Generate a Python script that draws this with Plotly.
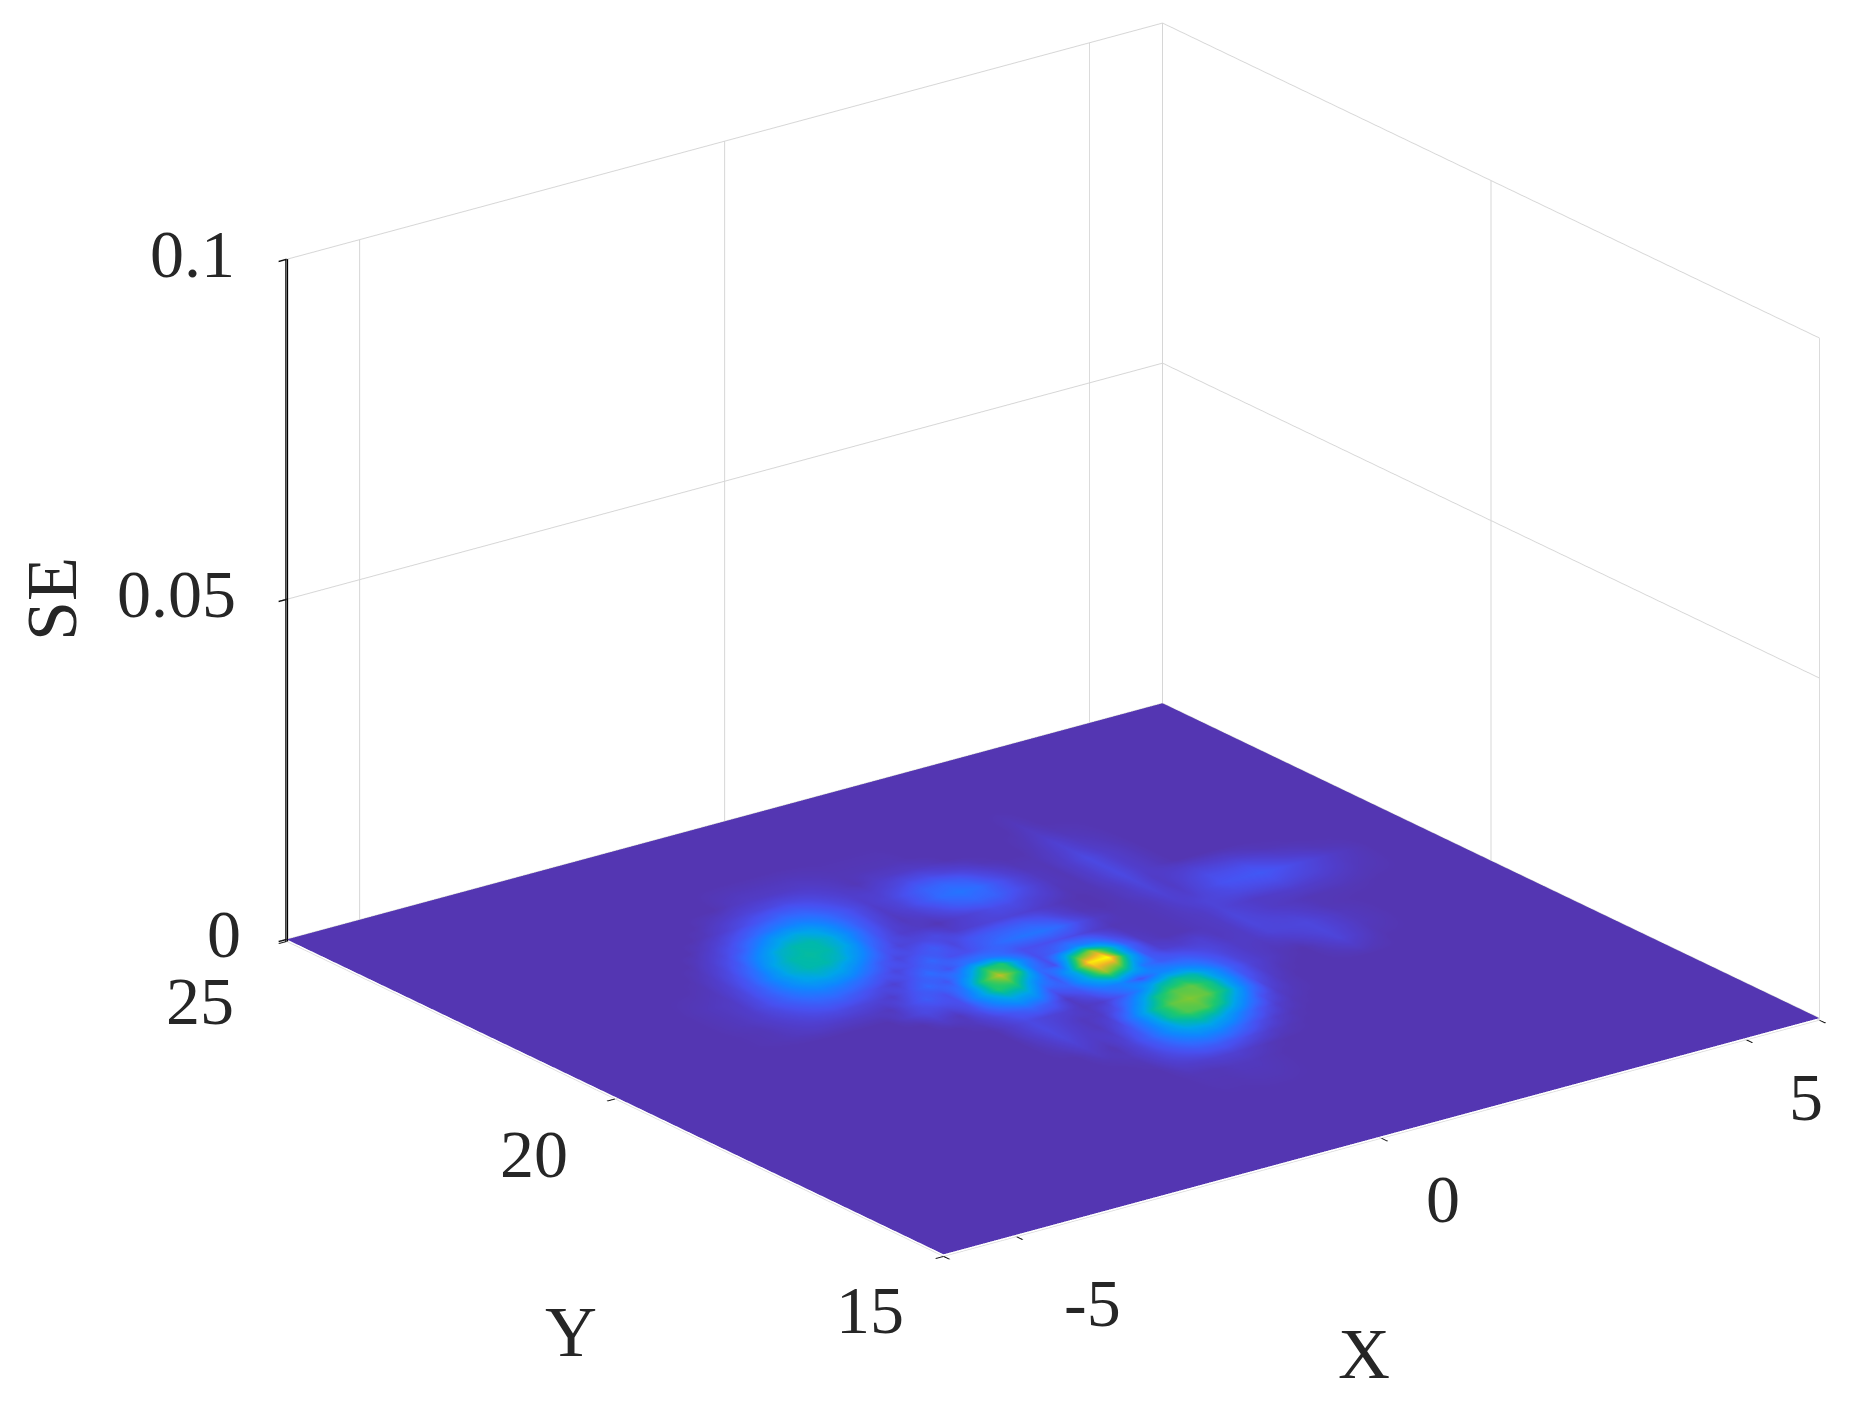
import plotly.graph_objects as go

# grid of the surface, finer step where the lobes are
x_vals = [-6, -5, -4, -3.5,
          -3.25, -3, -2.75, -2.5, -2.25, -2, -1.75, -1.5, -1.25, -1, -0.75, -0.5, -0.25,
          0, 0.25, 0.5, 0.75, 1, 1.25, 1.5, 1.75, 2, 2.25, 2.5, 2.75,
          3.25, 3.75, 4.25, 4.75, 5.25, 6]
y_vals = [15, 16.5, 17.25, 17.5, 17.75, 18, 18.25, 18.5, 18.75, 19, 19.25, 19.5, 19.75, 20,
          20.25, 20.5, 20.75, 21, 21.25, 21.5, 21.75, 22, 22.25, 22.5, 22.75, 23, 23.25,
          23.75, 25]

# SE, in units of 1e-5
se_rows = [
    [0,0,0,0, 0,0,0,0,0,0,0,0,0,0,0,0,0,0,0,0,0,0,0,0,0,0,0,0,0, 0,0,0,0,0,0],
    [0,0,0,0, 0,0,0,0,0,0,0,0,0,0,0,0,0,0,0,0,0,0,0,0,0,0,0,0,0, 0,0,0,0,0,0],
    [0,0,0,0, 0,0,0,0,0,0,0,0,0,0,0,1,1,2,2,1,0,0,0,0,0,0,0,0,0, 0,0,0,0,0,0],
    [0,0,0,0, 0,0,0,0,0,0,0,0,0,0,0,3,4,5,5,3,1,0,0,0,0,0,0,0,0, 0,0,0,0,0,0],
    [0,0,0,0, 0,0,0,0,0,0,0,0,0,0,1,5,9,13,14,11,7,3,1,0,0,0,0,0,0, 0,0,0,0,0,0],
    [0,0,0,0, 0,0,0,0,0,0,0,0,0,1,2,6,13,22,28,27,19,10,4,1,0,0,0,0,0, 0,0,0,0,0,0],
    [0,0,0,0, 0,0,0,0,0,0,0,0,0,3,1,6,15,29,43,48,40,25,12,4,1,0,0,0,0, 0,0,0,0,0,0],
    [0,0,0,0, 0,0,0,0,0,0,0,0,2,5,3,4,12,28,54,66,66,52,30,11,3,1,0,0,0, 0,0,0,0,0,0],
    [0,0,0,0, 0,0,0,0,0,0,0,0,3,7,4,2,7,26,52,68,72,68,52,26,7,2,0,0,0, 0,0,0,0,0,0],
    [0,0,0,0, 0,0,0,0,0,0,0,0,4,8,5,2,3,11,30,54,66,68,56,32,12,4,1,0,0, 3,0,0,0,0,0],
    [0,0,0,0, 0,0,0,0,0,0,0,0,4,8,6,5,2,4,12,25,46,54,50,32,15,6,3,1,0, 6,1,0,0,0,0],
    [0,0,0,0, 0,0,0,0,0,0,0,2,6,12,18,14,3,10,23,27,12,27,28,22,13,6,3,2,3, 7,2,0,0,0,0],
    [0,0,0,0, 0,0,0,0,0,0,4,2,10,25,38,35,12,17,40,75,58,23,14,13,9,6,3,3,6, 7,2,0,0,0,0],
    [0,0,0,0, 0,0,0,0,0,4,8,8,10,33,60,58,30,13,40,95,100,50,13,5,4,5,2,3,7, 5,1,0,0,0,0],
    [0,0,0,1, 2,3,3,3,3,2,8,14,10,23,59,80,59,20,10,58,75,50,17,3,1,1,2,3,7, 3,1,1,0,0,0],
    [0,0,0,1, 3,5,7,8,7,6,4,10,18,12,30,58,60,30,10,16,27,23,10,2,1,1,2,3,6, 3,4,3,1,0,0],
    [0,0,0,2, 4,7,11,15,16,13,9,5,11,20,11,22,24,18,10,10,10,8,4,1,1,1,2,4,6, 8,9,6,2,0,0],
    [0,0,0,2, 4,9,15,22,26,25,20,13,7,11,18,10,10,15,20,22,22,18,9,3,1,1,2,5,4, 11,13,8,3,0,0],
    [0,0,0,2, 3,8,16,27,38,42,38,26,14,7,10,14,7,12,14,15,15,11,5,1,0,1,3,6,3, 9,9,4,1,0,0],
    [0,0,0,1, 2,6,14,28,43,50,50,43,28,13,6,7,8,4,5,6,6,5,3,1,0,1,3,7,3, 5,4,1,0,0,0],
    [0,0,0,0, 1,4,10,21,40,50,52,50,40,21,10,4,3,1,4,6,9,9,6,4,1,1,4,8,4, 0,0,0,0,0,0],
    [0,0,0,0, 0,2,6,13,28,43,50,50,43,28,14,6,2,4,8,14,17,16,11,6,2,1,4,8,4, 0,0,0,0,0,0],
    [0,0,0,0, 0,0,3,7,14,26,38,42,38,27,16,8,3,6,12,19,22,19,12,6,2,1,4,8,4, 0,0,0,0,0,0],
    [0,0,0,0, 0,0,0,3,7,13,20,25,26,22,15,9,4,6,11,16,17,14,8,4,1,1,3,6,3, 0,0,0,0,0,0],
    [0,0,0,0, 0,0,0,0,2,5,9,13,16,15,11,7,4,4,6,9,9,6,4,1,0,0,2,5,2, 0,0,0,0,0,0],
    [0,0,0,0, 0,0,0,0,0,2,4,6,7,8,7,5,3,1,3,3,3,2,0,0,0,0,1,3,1, 0,0,0,0,0,0],
    [0,0,0,0, 0,0,0,0,0,0,0,2,3,3,3,3,2,1,1,1,1,0,0,0,0,0,0,2,0, 0,0,0,0,0,0],
    [0,0,0,0, 0,0,0,0,0,0,0,0,0,0,0,0,0,0,0,0,0,0,0,0,0,0,0,0,0, 0,0,0,0,0,0],
    [0,0,0,0, 0,0,0,0,0,0,0,0,0,0,0,0,0,0,0,0,0,0,0,0,0,0,0,0,0, 0,0,0,0,0,0],
]
se_unit = 1e-5

x_ticks = [-6, -5, 0, 5, 6]
x_labels = ["", "-5", "0", "5", ""]
y_ticks = [15, 20, 25]
y_labels = ["15", "20", "25"]
z_ticks = [0, 0.05, 0.1]
z_labels = ["0", "0.05", "0.1"]

# parula-like, as it looks in the washed out picture
colors = [
    [0.0, "rgb(84,54,178)"],
    [0.04, "rgb(80,62,205)"],
    [0.1, "rgb(72,80,240)"],
    [0.18, "rgb(50,105,255)"],
    [0.28, "rgb(15,135,255)"],
    [0.4, "rgb(0,165,235)"],
    [0.5, "rgb(0,185,170)"],
    [0.6, "rgb(30,200,110)"],
    [0.72, "rgb(130,200,50)"],
    [0.85, "rgb(240,180,40)"],
    [1.0, "rgb(255,255,0)"],
]

z_grid = [[v * se_unit for v in row] for row in se_rows]

surface = go.Surface(
    x=x_vals, y=y_vals, z=z_grid,
    colorscale=colors, cmin=0, cmax=100 * se_unit,
    showscale=False, hoverinfo="skip",
    lighting=dict(ambient=1, diffuse=0, specular=0, roughness=1, fresnel=0),
)

text_color = "#262626"
tick_font = dict(family="Liberation Serif", size=68, color=text_color)
title_font = dict(family="Liberation Serif", size=72, color=text_color)

# tick labels and titles as scene annotations, the gl ones come out huge and turned
notes = []
def add_note(x, y, z, text, font, xshift, yshift, angle=0):
    if text == "":
        return
    notes.append(dict(x=x, y=y, z=z, text=text, font=font, showarrow=False,
                      xanchor="center", yanchor="middle",
                      xshift=xshift, yshift=yshift, textangle=angle))

for tick, label, dx, dy in zip(x_ticks, x_labels, [0, 76, 61, 60, 0], [0, -68, -63, -59, 0]):
    add_note(tick, 15, 0, label, tick_font, dx, dy)
for tick, label, dx, dy in zip(y_ticks, y_labels, [-74, -81, -87], [-56, -57, -62]):
    add_note(-6, tick, 0, label, tick_font, dx, dy)
for tick, label, dx in zip(z_ticks, z_labels, [-63, -110, -94]):
    add_note(-6, 25, tick, label, tick_font, dx, 5)
add_note(0, 15, 0, "X", title_font, -18, -218)
add_note(-6, 20, 0, "Y", title_font, -44, -235)
add_note(-6, 25, 0.05, "SE", title_font, -234, 0, -90)

grid = "#d6d6d6"
axis = dict(showbackground=False, showspikes=False, zeroline=False, showgrid=True,
            gridcolor=grid, gridwidth=2, showline=False, ticks="outside", ticklen=10,
            tickwidth=3, tickcolor="#111111", showticklabels=False, tickmode="array",
            title=dict(text=""))

fig = go.Figure(surface)
fig.update_layout(
    width=1851, height=1410, autosize=False,
    margin=dict(l=0, r=0, t=0, b=0),
    paper_bgcolor="white",
    showlegend=False,
    scene=dict(
        domain=dict(x=[0, 1], y=[0, 1]),
        aspectmode="manual",
        aspectratio=dict(x=1.553, y=1.553, z=1.037),
        camera=dict(
            projection=dict(type="orthographic"),
            eye=dict(x=-1.388, y=-1.568, z=0.693),
            up=dict(x=0, y=0, z=1),
            center=dict(x=-0.158, y=0.072, z=-0.097),
        ),
        xaxis=dict(axis, range=[-6, 6], tickvals=x_ticks, ticktext=x_labels),
        yaxis=dict(axis, range=[15, 25], tickvals=y_ticks, ticktext=y_labels),
        zaxis=dict(axis, range=[-0.0003, 0.1], tickvals=z_ticks, ticktext=z_labels,
                   showline=True, linecolor="#000000", linewidth=6),
        annotations=notes,
    ),
)

fig.write_html("out.html")
